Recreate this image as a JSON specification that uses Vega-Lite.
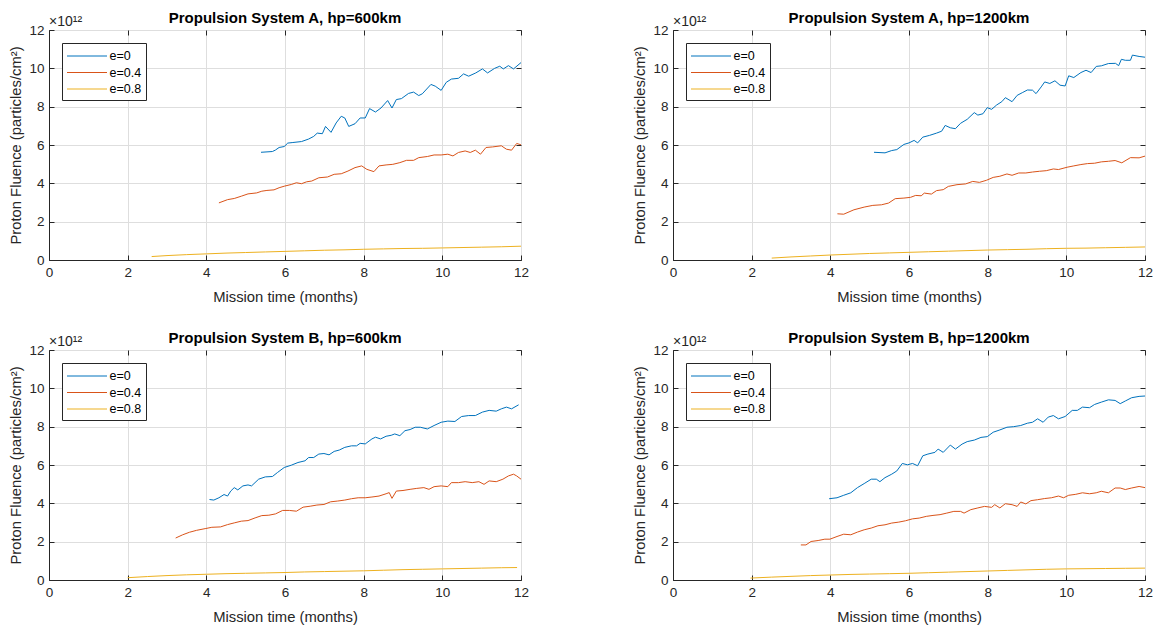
{
"$schema": "https://vega.github.io/schema/vega-lite/v6.json",
"background": "white",
"padding": {"left": 8, "top": 10, "right": 5, "bottom": 5},
"config": {
  "font": "Liberation Sans",
  "view": {"stroke": "#262626", "strokeWidth": 1},
  "axis": {"grid": true, "gridColor": "#dedede", "domainColor": "#262626", "tickColor": "#262626", "tickSize": -5, "tickCount": 6, "labelColor": "#262626", "labelFontSize": 13.5, "titleColor": "#262626", "titleFontSize": 14.8, "titleFontWeight": "normal", "labelFlush": false, "labelOverlap": false},
  "axisX": {"labelPadding": 10, "titlePadding": 10.5},
  "axisY": {"labelPadding": 10, "titlePadding": 5},
  "title": {"fontSize": 15, "fontWeight": "bold", "color": "#000", "offset": -10.5},
  "legend": {"orient": "top-left", "offset": 13, "strokeColor": "#262626", "fillColor": "white", "padding": 4.5, "symbolType": "M-2.5,0H2.5", "symbolSize": 256, "symbolStrokeWidth": 1, "symbolOffset": 12, "labelFontSize": 12.5, "labelColor": "#000", "rowPadding": 1.5, "labelOffset": 14}
},
"columns": 2,
"spacing": {"row": 90, "column": 152},
"bounds": "flush",
"resolve": {"legend": {"color": "independent"}},
"data": {"values": [
{"panel":"A600","e":"e=0","t":5.39,"fluence":5.62},{"panel":"A600","e":"e=0","t":5.68,"fluence":5.66},{"panel":"A600","e":"e=0","t":5.76,"fluence":5.74},{"panel":"A600","e":"e=0","t":5.85,"fluence":5.87},{"panel":"A600","e":"e=0","t":5.98,"fluence":5.92},{"panel":"A600","e":"e=0","t":6.07,"fluence":6.10},{"panel":"A600","e":"e=0","t":6.20,"fluence":6.13},{"panel":"A600","e":"e=0","t":6.42,"fluence":6.18},{"panel":"A600","e":"e=0","t":6.60,"fluence":6.31},{"panel":"A600","e":"e=0","t":6.73,"fluence":6.45},{"panel":"A600","e":"e=0","t":6.82,"fluence":6.62},{"panel":"A600","e":"e=0","t":6.95,"fluence":6.59},{"panel":"A600","e":"e=0","t":7.03,"fluence":6.97},{"panel":"A600","e":"e=0","t":7.17,"fluence":6.66},{"panel":"A600","e":"e=0","t":7.30,"fluence":7.15},{"panel":"A600","e":"e=0","t":7.43,"fluence":7.50},{"panel":"A600","e":"e=0","t":7.52,"fluence":7.41},{"panel":"A600","e":"e=0","t":7.62,"fluence":6.97},{"panel":"A600","e":"e=0","t":7.78,"fluence":7.11},{"panel":"A600","e":"e=0","t":7.91,"fluence":7.41},{"panel":"A600","e":"e=0","t":8.04,"fluence":7.41},{"panel":"A600","e":"e=0","t":8.15,"fluence":7.90},{"panel":"A600","e":"e=0","t":8.30,"fluence":7.72},{"panel":"A600","e":"e=0","t":8.44,"fluence":7.93},{"panel":"A600","e":"e=0","t":8.61,"fluence":8.32},{"panel":"A600","e":"e=0","t":8.72,"fluence":7.93},{"panel":"A600","e":"e=0","t":8.83,"fluence":8.37},{"panel":"A600","e":"e=0","t":8.96,"fluence":8.42},{"panel":"A600","e":"e=0","t":9.14,"fluence":8.69},{"panel":"A600","e":"e=0","t":9.27,"fluence":8.76},{"panel":"A600","e":"e=0","t":9.40,"fluence":8.58},{"panel":"A600","e":"e=0","t":9.49,"fluence":8.67},{"panel":"A600","e":"e=0","t":9.71,"fluence":9.16},{"panel":"A600","e":"e=0","t":9.82,"fluence":9.07},{"panel":"A600","e":"e=0","t":9.97,"fluence":8.85},{"panel":"A600","e":"e=0","t":10.10,"fluence":9.27},{"panel":"A600","e":"e=0","t":10.23,"fluence":9.44},{"panel":"A600","e":"e=0","t":10.41,"fluence":9.48},{"panel":"A600","e":"e=0","t":10.54,"fluence":9.71},{"panel":"A600","e":"e=0","t":10.67,"fluence":9.59},{"panel":"A600","e":"e=0","t":10.85,"fluence":9.76},{"panel":"A600","e":"e=0","t":11.02,"fluence":9.97},{"panel":"A600","e":"e=0","t":11.15,"fluence":9.76},{"panel":"A600","e":"e=0","t":11.33,"fluence":10.0},{"panel":"A600","e":"e=0","t":11.46,"fluence":10.11},{"panel":"A600","e":"e=0","t":11.55,"fluence":9.97},{"panel":"A600","e":"e=0","t":11.68,"fluence":10.14},{"panel":"A600","e":"e=0","t":11.81,"fluence":9.97},{"panel":"A600","e":"e=0","t":12.0,"fluence":10.3},
{"panel":"A600","e":"e=0.4","t":4.32,"fluence":2.98},{"panel":"A600","e":"e=0.4","t":4.54,"fluence":3.15},{"panel":"A600","e":"e=0.4","t":4.71,"fluence":3.21},{"panel":"A600","e":"e=0.4","t":4.89,"fluence":3.33},{"panel":"A600","e":"e=0.4","t":5.06,"fluence":3.45},{"panel":"A600","e":"e=0.4","t":5.28,"fluence":3.50},{"panel":"A600","e":"e=0.4","t":5.41,"fluence":3.59},{"panel":"A600","e":"e=0.4","t":5.54,"fluence":3.63},{"panel":"A600","e":"e=0.4","t":5.72,"fluence":3.66},{"panel":"A600","e":"e=0.4","t":5.85,"fluence":3.77},{"panel":"A600","e":"e=0.4","t":5.98,"fluence":3.85},{"panel":"A600","e":"e=0.4","t":6.16,"fluence":3.94},{"panel":"A600","e":"e=0.4","t":6.29,"fluence":4.03},{"panel":"A600","e":"e=0.4","t":6.42,"fluence":3.98},{"panel":"A600","e":"e=0.4","t":6.55,"fluence":4.08},{"panel":"A600","e":"e=0.4","t":6.68,"fluence":4.12},{"panel":"A600","e":"e=0.4","t":6.86,"fluence":4.29},{"panel":"A600","e":"e=0.4","t":7.08,"fluence":4.33},{"panel":"A600","e":"e=0.4","t":7.25,"fluence":4.47},{"panel":"A600","e":"e=0.4","t":7.43,"fluence":4.50},{"panel":"A600","e":"e=0.4","t":7.60,"fluence":4.64},{"panel":"A600","e":"e=0.4","t":7.78,"fluence":4.82},{"panel":"A600","e":"e=0.4","t":7.95,"fluence":4.91},{"panel":"A600","e":"e=0.4","t":8.08,"fluence":4.73},{"panel":"A600","e":"e=0.4","t":8.26,"fluence":4.61},{"panel":"A600","e":"e=0.4","t":8.39,"fluence":4.91},{"panel":"A600","e":"e=0.4","t":8.57,"fluence":4.96},{"panel":"A600","e":"e=0.4","t":8.74,"fluence":4.99},{"panel":"A600","e":"e=0.4","t":8.92,"fluence":5.08},{"panel":"A600","e":"e=0.4","t":9.09,"fluence":5.20},{"panel":"A600","e":"e=0.4","t":9.27,"fluence":5.20},{"panel":"A600","e":"e=0.4","t":9.40,"fluence":5.34},{"panel":"A600","e":"e=0.4","t":9.62,"fluence":5.40},{"panel":"A600","e":"e=0.4","t":9.79,"fluence":5.48},{"panel":"A600","e":"e=0.4","t":9.97,"fluence":5.48},{"panel":"A600","e":"e=0.4","t":10.14,"fluence":5.52},{"panel":"A600","e":"e=0.4","t":10.27,"fluence":5.43},{"panel":"A600","e":"e=0.4","t":10.41,"fluence":5.61},{"panel":"A600","e":"e=0.4","t":10.58,"fluence":5.69},{"panel":"A600","e":"e=0.4","t":10.71,"fluence":5.61},{"panel":"A600","e":"e=0.4","t":10.84,"fluence":5.73},{"panel":"A600","e":"e=0.4","t":10.97,"fluence":5.52},{"panel":"A600","e":"e=0.4","t":11.11,"fluence":5.87},{"panel":"A600","e":"e=0.4","t":11.28,"fluence":5.90},{"panel":"A600","e":"e=0.4","t":11.50,"fluence":5.96},{"panel":"A600","e":"e=0.4","t":11.63,"fluence":5.78},{"panel":"A600","e":"e=0.4","t":11.76,"fluence":5.73},{"panel":"A600","e":"e=0.4","t":11.89,"fluence":6.08},{"panel":"A600","e":"e=0.4","t":12.0,"fluence":6.01},
{"panel":"A600","e":"e=0.8","t":2.61,"fluence":0.18},{"panel":"A600","e":"e=0.8","t":3.0,"fluence":0.23},{"panel":"A600","e":"e=0.8","t":3.5,"fluence":0.28},{"panel":"A600","e":"e=0.8","t":4.0,"fluence":0.32},{"panel":"A600","e":"e=0.8","t":4.5,"fluence":0.36},{"panel":"A600","e":"e=0.8","t":5.0,"fluence":0.39},{"panel":"A600","e":"e=0.8","t":5.5,"fluence":0.42},{"panel":"A600","e":"e=0.8","t":6.0,"fluence":0.45},{"panel":"A600","e":"e=0.8","t":6.5,"fluence":0.48},{"panel":"A600","e":"e=0.8","t":7.0,"fluence":0.51},{"panel":"A600","e":"e=0.8","t":7.5,"fluence":0.53},{"panel":"A600","e":"e=0.8","t":8.0,"fluence":0.56},{"panel":"A600","e":"e=0.8","t":8.5,"fluence":0.58},{"panel":"A600","e":"e=0.8","t":9.0,"fluence":0.60},{"panel":"A600","e":"e=0.8","t":9.5,"fluence":0.61},{"panel":"A600","e":"e=0.8","t":10.0,"fluence":0.63},{"panel":"A600","e":"e=0.8","t":10.5,"fluence":0.65},{"panel":"A600","e":"e=0.8","t":11.0,"fluence":0.67},{"panel":"A600","e":"e=0.8","t":11.5,"fluence":0.69},{"panel":"A600","e":"e=0.8","t":12.0,"fluence":0.72},
{"panel":"A1200","e":"e=0","t":5.11,"fluence":5.62},{"panel":"A1200","e":"e=0","t":5.39,"fluence":5.59},{"panel":"A1200","e":"e=0","t":5.56,"fluence":5.71},{"panel":"A1200","e":"e=0","t":5.69,"fluence":5.76},{"panel":"A1200","e":"e=0","t":5.87,"fluence":6.03},{"panel":"A1200","e":"e=0","t":6.0,"fluence":6.11},{"panel":"A1200","e":"e=0","t":6.13,"fluence":6.24},{"panel":"A1200","e":"e=0","t":6.22,"fluence":6.11},{"panel":"A1200","e":"e=0","t":6.35,"fluence":6.41},{"panel":"A1200","e":"e=0","t":6.52,"fluence":6.50},{"panel":"A1200","e":"e=0","t":6.70,"fluence":6.62},{"panel":"A1200","e":"e=0","t":6.83,"fluence":6.72},{"panel":"A1200","e":"e=0","t":6.92,"fluence":7.02},{"panel":"A1200","e":"e=0","t":7.05,"fluence":6.90},{"panel":"A1200","e":"e=0","t":7.18,"fluence":6.85},{"panel":"A1200","e":"e=0","t":7.31,"fluence":7.13},{"panel":"A1200","e":"e=0","t":7.48,"fluence":7.34},{"panel":"A1200","e":"e=0","t":7.66,"fluence":7.69},{"panel":"A1200","e":"e=0","t":7.75,"fluence":7.56},{"panel":"A1200","e":"e=0","t":7.88,"fluence":7.63},{"panel":"A1200","e":"e=0","t":7.99,"fluence":7.95},{"panel":"A1200","e":"e=0","t":8.10,"fluence":7.86},{"panel":"A1200","e":"e=0","t":8.23,"fluence":8.09},{"panel":"A1200","e":"e=0","t":8.36,"fluence":8.26},{"panel":"A1200","e":"e=0","t":8.45,"fluence":8.47},{"panel":"A1200","e":"e=0","t":8.62,"fluence":8.26},{"panel":"A1200","e":"e=0","t":8.75,"fluence":8.59},{"panel":"A1200","e":"e=0","t":8.88,"fluence":8.73},{"panel":"A1200","e":"e=0","t":9.01,"fluence":8.87},{"panel":"A1200","e":"e=0","t":9.14,"fluence":8.86},{"panel":"A1200","e":"e=0","t":9.23,"fluence":8.68},{"panel":"A1200","e":"e=0","t":9.36,"fluence":9.03},{"panel":"A1200","e":"e=0","t":9.45,"fluence":9.29},{"panel":"A1200","e":"e=0","t":9.58,"fluence":9.21},{"panel":"A1200","e":"e=0","t":9.71,"fluence":9.35},{"panel":"A1200","e":"e=0","t":9.84,"fluence":9.12},{"panel":"A1200","e":"e=0","t":9.97,"fluence":9.08},{"panel":"A1200","e":"e=0","t":10.06,"fluence":9.61},{"panel":"A1200","e":"e=0","t":10.19,"fluence":9.52},{"panel":"A1200","e":"e=0","t":10.37,"fluence":9.78},{"panel":"A1200","e":"e=0","t":10.50,"fluence":9.90},{"panel":"A1200","e":"e=0","t":10.63,"fluence":9.78},{"panel":"A1200","e":"e=0","t":10.76,"fluence":10.10},{"panel":"A1200","e":"e=0","t":10.89,"fluence":10.13},{"panel":"A1200","e":"e=0","t":11.07,"fluence":10.25},{"panel":"A1200","e":"e=0","t":11.25,"fluence":10.26},{"panel":"A1200","e":"e=0","t":11.33,"fluence":10.14},{"panel":"A1200","e":"e=0","t":11.40,"fluence":10.47},{"panel":"A1200","e":"e=0","t":11.50,"fluence":10.42},{"panel":"A1200","e":"e=0","t":11.63,"fluence":10.42},{"panel":"A1200","e":"e=0","t":11.68,"fluence":10.69},{"panel":"A1200","e":"e=0","t":11.85,"fluence":10.62},{"panel":"A1200","e":"e=0","t":12.0,"fluence":10.58},
{"panel":"A1200","e":"e=0.4","t":4.18,"fluence":2.41},{"panel":"A1200","e":"e=0.4","t":4.34,"fluence":2.39},{"panel":"A1200","e":"e=0.4","t":4.60,"fluence":2.62},{"panel":"A1200","e":"e=0.4","t":4.86,"fluence":2.76},{"panel":"A1200","e":"e=0.4","t":5.08,"fluence":2.85},{"panel":"A1200","e":"e=0.4","t":5.30,"fluence":2.88},{"panel":"A1200","e":"e=0.4","t":5.48,"fluence":2.97},{"panel":"A1200","e":"e=0.4","t":5.65,"fluence":3.20},{"panel":"A1200","e":"e=0.4","t":5.87,"fluence":3.23},{"panel":"A1200","e":"e=0.4","t":6.04,"fluence":3.27},{"panel":"A1200","e":"e=0.4","t":6.17,"fluence":3.37},{"panel":"A1200","e":"e=0.4","t":6.31,"fluence":3.35},{"panel":"A1200","e":"e=0.4","t":6.39,"fluence":3.49},{"panel":"A1200","e":"e=0.4","t":6.57,"fluence":3.44},{"panel":"A1200","e":"e=0.4","t":6.70,"fluence":3.62},{"panel":"A1200","e":"e=0.4","t":6.87,"fluence":3.67},{"panel":"A1200","e":"e=0.4","t":7.00,"fluence":3.84},{"panel":"A1200","e":"e=0.4","t":7.22,"fluence":3.93},{"panel":"A1200","e":"e=0.4","t":7.44,"fluence":3.97},{"panel":"A1200","e":"e=0.4","t":7.62,"fluence":4.10},{"panel":"A1200","e":"e=0.4","t":7.79,"fluence":4.05},{"panel":"A1200","e":"e=0.4","t":7.97,"fluence":4.16},{"panel":"A1200","e":"e=0.4","t":8.14,"fluence":4.31},{"panel":"A1200","e":"e=0.4","t":8.31,"fluence":4.37},{"panel":"A1200","e":"e=0.4","t":8.49,"fluence":4.49},{"panel":"A1200","e":"e=0.4","t":8.62,"fluence":4.42},{"panel":"A1200","e":"e=0.4","t":8.79,"fluence":4.54},{"panel":"A1200","e":"e=0.4","t":8.97,"fluence":4.54},{"panel":"A1200","e":"e=0.4","t":9.14,"fluence":4.59},{"panel":"A1200","e":"e=0.4","t":9.32,"fluence":4.63},{"panel":"A1200","e":"e=0.4","t":9.49,"fluence":4.66},{"panel":"A1200","e":"e=0.4","t":9.67,"fluence":4.75},{"panel":"A1200","e":"e=0.4","t":9.80,"fluence":4.72},{"panel":"A1200","e":"e=0.4","t":10.02,"fluence":4.84},{"panel":"A1200","e":"e=0.4","t":10.19,"fluence":4.91},{"panel":"A1200","e":"e=0.4","t":10.37,"fluence":4.98},{"panel":"A1200","e":"e=0.4","t":10.54,"fluence":5.03},{"panel":"A1200","e":"e=0.4","t":10.72,"fluence":5.05},{"panel":"A1200","e":"e=0.4","t":10.89,"fluence":5.12},{"panel":"A1200","e":"e=0.4","t":11.07,"fluence":5.15},{"panel":"A1200","e":"e=0.4","t":11.24,"fluence":5.19},{"panel":"A1200","e":"e=0.4","t":11.41,"fluence":5.07},{"panel":"A1200","e":"e=0.4","t":11.63,"fluence":5.34},{"panel":"A1200","e":"e=0.4","t":11.85,"fluence":5.33},{"panel":"A1200","e":"e=0.4","t":12.0,"fluence":5.42},
{"panel":"A1200","e":"e=0.8","t":2.51,"fluence":0.10},{"panel":"A1200","e":"e=0.8","t":3.0,"fluence":0.16},{"panel":"A1200","e":"e=0.8","t":3.5,"fluence":0.21},{"panel":"A1200","e":"e=0.8","t":4.0,"fluence":0.26},{"panel":"A1200","e":"e=0.8","t":4.5,"fluence":0.30},{"panel":"A1200","e":"e=0.8","t":5.0,"fluence":0.34},{"panel":"A1200","e":"e=0.8","t":5.5,"fluence":0.37},{"panel":"A1200","e":"e=0.8","t":6.0,"fluence":0.40},{"panel":"A1200","e":"e=0.8","t":6.5,"fluence":0.43},{"panel":"A1200","e":"e=0.8","t":7.0,"fluence":0.46},{"panel":"A1200","e":"e=0.8","t":7.5,"fluence":0.49},{"panel":"A1200","e":"e=0.8","t":8.0,"fluence":0.52},{"panel":"A1200","e":"e=0.8","t":8.5,"fluence":0.54},{"panel":"A1200","e":"e=0.8","t":9.0,"fluence":0.56},{"panel":"A1200","e":"e=0.8","t":9.5,"fluence":0.59},{"panel":"A1200","e":"e=0.8","t":10.0,"fluence":0.61},{"panel":"A1200","e":"e=0.8","t":10.5,"fluence":0.62},{"panel":"A1200","e":"e=0.8","t":11.0,"fluence":0.64},{"panel":"A1200","e":"e=0.8","t":11.5,"fluence":0.66},{"panel":"A1200","e":"e=0.8","t":12.0,"fluence":0.68},
{"panel":"B600","e":"e=0","t":4.08,"fluence":4.20},{"panel":"B600","e":"e=0","t":4.19,"fluence":4.17},{"panel":"B600","e":"e=0","t":4.32,"fluence":4.29},{"panel":"B600","e":"e=0","t":4.45,"fluence":4.46},{"panel":"B600","e":"e=0","t":4.54,"fluence":4.38},{"panel":"B600","e":"e=0","t":4.62,"fluence":4.64},{"panel":"B600","e":"e=0","t":4.71,"fluence":4.82},{"panel":"B600","e":"e=0","t":4.80,"fluence":4.70},{"panel":"B600","e":"e=0","t":4.93,"fluence":4.91},{"panel":"B600","e":"e=0","t":5.06,"fluence":4.96},{"panel":"B600","e":"e=0","t":5.15,"fluence":4.91},{"panel":"B600","e":"e=0","t":5.33,"fluence":5.26},{"panel":"B600","e":"e=0","t":5.50,"fluence":5.38},{"panel":"B600","e":"e=0","t":5.68,"fluence":5.40},{"panel":"B600","e":"e=0","t":5.81,"fluence":5.61},{"panel":"B600","e":"e=0","t":5.98,"fluence":5.87},{"panel":"B600","e":"e=0","t":6.16,"fluence":5.99},{"panel":"B600","e":"e=0","t":6.33,"fluence":6.13},{"panel":"B600","e":"e=0","t":6.51,"fluence":6.22},{"panel":"B600","e":"e=0","t":6.60,"fluence":6.39},{"panel":"B600","e":"e=0","t":6.73,"fluence":6.39},{"panel":"B600","e":"e=0","t":6.86,"fluence":6.57},{"panel":"B600","e":"e=0","t":6.99,"fluence":6.60},{"panel":"B600","e":"e=0","t":7.12,"fluence":6.53},{"panel":"B600","e":"e=0","t":7.25,"fluence":6.71},{"panel":"B600","e":"e=0","t":7.38,"fluence":6.78},{"panel":"B600","e":"e=0","t":7.52,"fluence":6.92},{"panel":"B600","e":"e=0","t":7.69,"fluence":7.00},{"panel":"B600","e":"e=0","t":7.82,"fluence":7.00},{"panel":"B600","e":"e=0","t":7.91,"fluence":7.13},{"panel":"B600","e":"e=0","t":8.04,"fluence":7.10},{"panel":"B600","e":"e=0","t":8.21,"fluence":7.36},{"panel":"B600","e":"e=0","t":8.30,"fluence":7.45},{"panel":"B600","e":"e=0","t":8.43,"fluence":7.36},{"panel":"B600","e":"e=0","t":8.57,"fluence":7.50},{"panel":"B600","e":"e=0","t":8.70,"fluence":7.55},{"panel":"B600","e":"e=0","t":8.79,"fluence":7.62},{"panel":"B600","e":"e=0","t":8.92,"fluence":7.53},{"panel":"B600","e":"e=0","t":9.05,"fluence":7.79},{"panel":"B600","e":"e=0","t":9.18,"fluence":7.85},{"panel":"B600","e":"e=0","t":9.31,"fluence":7.97},{"panel":"B600","e":"e=0","t":9.44,"fluence":7.97},{"panel":"B600","e":"e=0","t":9.62,"fluence":7.88},{"panel":"B600","e":"e=0","t":9.79,"fluence":8.06},{"panel":"B600","e":"e=0","t":9.97,"fluence":8.23},{"panel":"B600","e":"e=0","t":10.14,"fluence":8.29},{"panel":"B600","e":"e=0","t":10.32,"fluence":8.27},{"panel":"B600","e":"e=0","t":10.49,"fluence":8.53},{"panel":"B600","e":"e=0","t":10.67,"fluence":8.58},{"panel":"B600","e":"e=0","t":10.84,"fluence":8.58},{"panel":"B600","e":"e=0","t":11.02,"fluence":8.76},{"panel":"B600","e":"e=0","t":11.19,"fluence":8.85},{"panel":"B600","e":"e=0","t":11.37,"fluence":8.81},{"panel":"B600","e":"e=0","t":11.50,"fluence":8.93},{"panel":"B600","e":"e=0","t":11.63,"fluence":9.02},{"panel":"B600","e":"e=0","t":11.76,"fluence":8.93},{"panel":"B600","e":"e=0","t":11.94,"fluence":9.14},
{"panel":"B600","e":"e=0.4","t":3.22,"fluence":2.19},{"panel":"B600","e":"e=0.4","t":3.40,"fluence":2.36},{"panel":"B600","e":"e=0.4","t":3.57,"fluence":2.49},{"panel":"B600","e":"e=0.4","t":3.75,"fluence":2.59},{"panel":"B600","e":"e=0.4","t":3.97,"fluence":2.68},{"panel":"B600","e":"e=0.4","t":4.14,"fluence":2.75},{"panel":"B600","e":"e=0.4","t":4.36,"fluence":2.77},{"panel":"B600","e":"e=0.4","t":4.54,"fluence":2.89},{"panel":"B600","e":"e=0.4","t":4.71,"fluence":2.98},{"panel":"B600","e":"e=0.4","t":4.89,"fluence":3.07},{"panel":"B600","e":"e=0.4","t":5.06,"fluence":3.10},{"panel":"B600","e":"e=0.4","t":5.24,"fluence":3.24},{"panel":"B600","e":"e=0.4","t":5.41,"fluence":3.36},{"panel":"B600","e":"e=0.4","t":5.59,"fluence":3.38},{"panel":"B600","e":"e=0.4","t":5.76,"fluence":3.45},{"panel":"B600","e":"e=0.4","t":5.94,"fluence":3.63},{"panel":"B600","e":"e=0.4","t":6.11,"fluence":3.63},{"panel":"B600","e":"e=0.4","t":6.29,"fluence":3.59},{"panel":"B600","e":"e=0.4","t":6.46,"fluence":3.80},{"panel":"B600","e":"e=0.4","t":6.64,"fluence":3.85},{"panel":"B600","e":"e=0.4","t":6.81,"fluence":3.91},{"panel":"B600","e":"e=0.4","t":6.99,"fluence":3.94},{"panel":"B600","e":"e=0.4","t":7.16,"fluence":4.08},{"panel":"B600","e":"e=0.4","t":7.34,"fluence":4.12},{"panel":"B600","e":"e=0.4","t":7.52,"fluence":4.17},{"panel":"B600","e":"e=0.4","t":7.69,"fluence":4.24},{"panel":"B600","e":"e=0.4","t":7.86,"fluence":4.29},{"panel":"B600","e":"e=0.4","t":8.04,"fluence":4.29},{"panel":"B600","e":"e=0.4","t":8.21,"fluence":4.33},{"panel":"B600","e":"e=0.4","t":8.39,"fluence":4.38},{"panel":"B600","e":"e=0.4","t":8.57,"fluence":4.50},{"panel":"B600","e":"e=0.4","t":8.65,"fluence":4.56},{"panel":"B600","e":"e=0.4","t":8.72,"fluence":4.26},{"panel":"B600","e":"e=0.4","t":8.83,"fluence":4.64},{"panel":"B600","e":"e=0.4","t":9.00,"fluence":4.67},{"panel":"B600","e":"e=0.4","t":9.18,"fluence":4.73},{"panel":"B600","e":"e=0.4","t":9.35,"fluence":4.78},{"panel":"B600","e":"e=0.4","t":9.53,"fluence":4.82},{"panel":"B600","e":"e=0.4","t":9.66,"fluence":4.73},{"panel":"B600","e":"e=0.4","t":9.79,"fluence":4.87},{"panel":"B600","e":"e=0.4","t":9.97,"fluence":4.91},{"panel":"B600","e":"e=0.4","t":10.14,"fluence":4.87},{"panel":"B600","e":"e=0.4","t":10.23,"fluence":5.08},{"panel":"B600","e":"e=0.4","t":10.41,"fluence":5.08},{"panel":"B600","e":"e=0.4","t":10.58,"fluence":5.13},{"panel":"B600","e":"e=0.4","t":10.76,"fluence":5.08},{"panel":"B600","e":"e=0.4","t":10.93,"fluence":5.13},{"panel":"B600","e":"e=0.4","t":11.06,"fluence":4.99},{"panel":"B600","e":"e=0.4","t":11.19,"fluence":5.17},{"panel":"B600","e":"e=0.4","t":11.37,"fluence":5.13},{"panel":"B600","e":"e=0.4","t":11.54,"fluence":5.26},{"panel":"B600","e":"e=0.4","t":11.68,"fluence":5.43},{"panel":"B600","e":"e=0.4","t":11.81,"fluence":5.52},{"panel":"B600","e":"e=0.4","t":11.89,"fluence":5.43},{"panel":"B600","e":"e=0.4","t":12.0,"fluence":5.26},
{"panel":"B600","e":"e=0.8","t":2.0,"fluence":0.12},{"panel":"B600","e":"e=0.8","t":2.5,"fluence":0.18},{"panel":"B600","e":"e=0.8","t":3.0,"fluence":0.23},{"panel":"B600","e":"e=0.8","t":3.5,"fluence":0.27},{"panel":"B600","e":"e=0.8","t":4.0,"fluence":0.30},{"panel":"B600","e":"e=0.8","t":4.5,"fluence":0.33},{"panel":"B600","e":"e=0.8","t":5.0,"fluence":0.35},{"panel":"B600","e":"e=0.8","t":5.5,"fluence":0.37},{"panel":"B600","e":"e=0.8","t":6.0,"fluence":0.39},{"panel":"B600","e":"e=0.8","t":6.5,"fluence":0.42},{"panel":"B600","e":"e=0.8","t":7.0,"fluence":0.44},{"panel":"B600","e":"e=0.8","t":7.5,"fluence":0.46},{"panel":"B600","e":"e=0.8","t":8.0,"fluence":0.48},{"panel":"B600","e":"e=0.8","t":8.5,"fluence":0.51},{"panel":"B600","e":"e=0.8","t":9.0,"fluence":0.54},{"panel":"B600","e":"e=0.8","t":9.5,"fluence":0.56},{"panel":"B600","e":"e=0.8","t":10.0,"fluence":0.58},{"panel":"B600","e":"e=0.8","t":10.5,"fluence":0.60},{"panel":"B600","e":"e=0.8","t":11.0,"fluence":0.62},{"panel":"B600","e":"e=0.8","t":11.5,"fluence":0.64},{"panel":"B600","e":"e=0.8","t":11.9,"fluence":0.65},
{"panel":"B1200","e":"e=0","t":3.97,"fluence":4.24},{"panel":"B1200","e":"e=0","t":4.17,"fluence":4.29},{"panel":"B1200","e":"e=0","t":4.34,"fluence":4.42},{"panel":"B1200","e":"e=0","t":4.52,"fluence":4.55},{"panel":"B1200","e":"e=0","t":4.69,"fluence":4.82},{"panel":"B1200","e":"e=0","t":4.86,"fluence":5.03},{"panel":"B1200","e":"e=0","t":5.04,"fluence":5.26},{"panel":"B1200","e":"e=0","t":5.17,"fluence":5.26},{"panel":"B1200","e":"e=0","t":5.26,"fluence":5.13},{"panel":"B1200","e":"e=0","t":5.39,"fluence":5.34},{"panel":"B1200","e":"e=0","t":5.56,"fluence":5.52},{"panel":"B1200","e":"e=0","t":5.69,"fluence":5.69},{"panel":"B1200","e":"e=0","t":5.83,"fluence":6.08},{"panel":"B1200","e":"e=0","t":5.96,"fluence":6.01},{"panel":"B1200","e":"e=0","t":6.09,"fluence":6.08},{"panel":"B1200","e":"e=0","t":6.22,"fluence":5.96},{"panel":"B1200","e":"e=0","t":6.35,"fluence":6.48},{"panel":"B1200","e":"e=0","t":6.48,"fluence":6.57},{"panel":"B1200","e":"e=0","t":6.66,"fluence":6.66},{"panel":"B1200","e":"e=0","t":6.74,"fluence":6.83},{"panel":"B1200","e":"e=0","t":6.87,"fluence":6.66},{"panel":"B1200","e":"e=0","t":7.05,"fluence":7.04},{"panel":"B1200","e":"e=0","t":7.18,"fluence":6.83},{"panel":"B1200","e":"e=0","t":7.35,"fluence":7.09},{"panel":"B1200","e":"e=0","t":7.48,"fluence":7.22},{"panel":"B1200","e":"e=0","t":7.66,"fluence":7.30},{"panel":"B1200","e":"e=0","t":7.83,"fluence":7.44},{"panel":"B1200","e":"e=0","t":7.99,"fluence":7.48},{"panel":"B1200","e":"e=0","t":8.14,"fluence":7.71},{"panel":"B1200","e":"e=0","t":8.31,"fluence":7.83},{"panel":"B1200","e":"e=0","t":8.49,"fluence":7.97},{"panel":"B1200","e":"e=0","t":8.66,"fluence":8.00},{"panel":"B1200","e":"e=0","t":8.84,"fluence":8.06},{"panel":"B1200","e":"e=0","t":9.01,"fluence":8.18},{"panel":"B1200","e":"e=0","t":9.14,"fluence":8.23},{"panel":"B1200","e":"e=0","t":9.27,"fluence":8.41},{"panel":"B1200","e":"e=0","t":9.41,"fluence":8.23},{"panel":"B1200","e":"e=0","t":9.54,"fluence":8.50},{"panel":"B1200","e":"e=0","t":9.67,"fluence":8.58},{"panel":"B1200","e":"e=0","t":9.80,"fluence":8.41},{"panel":"B1200","e":"e=0","t":9.97,"fluence":8.53},{"panel":"B1200","e":"e=0","t":10.15,"fluence":8.85},{"panel":"B1200","e":"e=0","t":10.28,"fluence":8.85},{"panel":"B1200","e":"e=0","t":10.41,"fluence":9.02},{"panel":"B1200","e":"e=0","t":10.59,"fluence":8.99},{"panel":"B1200","e":"e=0","t":10.72,"fluence":9.16},{"panel":"B1200","e":"e=0","t":10.89,"fluence":9.28},{"panel":"B1200","e":"e=0","t":11.07,"fluence":9.40},{"panel":"B1200","e":"e=0","t":11.24,"fluence":9.37},{"panel":"B1200","e":"e=0","t":11.37,"fluence":9.20},{"panel":"B1200","e":"e=0","t":11.50,"fluence":9.34},{"panel":"B1200","e":"e=0","t":11.66,"fluence":9.51},{"panel":"B1200","e":"e=0","t":11.85,"fluence":9.58},{"panel":"B1200","e":"e=0","t":12.0,"fluence":9.60},
{"panel":"B1200","e":"e=0.4","t":3.25,"fluence":1.83},{"panel":"B1200","e":"e=0.4","t":3.38,"fluence":1.83},{"panel":"B1200","e":"e=0.4","t":3.51,"fluence":2.01},{"panel":"B1200","e":"e=0.4","t":3.69,"fluence":2.06},{"panel":"B1200","e":"e=0.4","t":3.86,"fluence":2.13},{"panel":"B1200","e":"e=0.4","t":3.99,"fluence":2.13},{"panel":"B1200","e":"e=0.4","t":4.17,"fluence":2.27},{"panel":"B1200","e":"e=0.4","t":4.34,"fluence":2.39},{"panel":"B1200","e":"e=0.4","t":4.52,"fluence":2.36},{"panel":"B1200","e":"e=0.4","t":4.69,"fluence":2.50},{"panel":"B1200","e":"e=0.4","t":4.86,"fluence":2.62},{"panel":"B1200","e":"e=0.4","t":5.04,"fluence":2.71},{"panel":"B1200","e":"e=0.4","t":5.21,"fluence":2.83},{"panel":"B1200","e":"e=0.4","t":5.39,"fluence":2.88},{"panel":"B1200","e":"e=0.4","t":5.56,"fluence":2.97},{"panel":"B1200","e":"e=0.4","t":5.74,"fluence":3.02},{"panel":"B1200","e":"e=0.4","t":5.91,"fluence":3.09},{"panel":"B1200","e":"e=0.4","t":6.09,"fluence":3.19},{"panel":"B1200","e":"e=0.4","t":6.26,"fluence":3.23},{"panel":"B1200","e":"e=0.4","t":6.44,"fluence":3.32},{"panel":"B1200","e":"e=0.4","t":6.61,"fluence":3.37},{"panel":"B1200","e":"e=0.4","t":6.79,"fluence":3.41},{"panel":"B1200","e":"e=0.4","t":6.96,"fluence":3.49},{"panel":"B1200","e":"e=0.4","t":7.14,"fluence":3.58},{"panel":"B1200","e":"e=0.4","t":7.31,"fluence":3.58},{"panel":"B1200","e":"e=0.4","t":7.40,"fluence":3.49},{"panel":"B1200","e":"e=0.4","t":7.57,"fluence":3.67},{"panel":"B1200","e":"e=0.4","t":7.75,"fluence":3.76},{"panel":"B1200","e":"e=0.4","t":7.92,"fluence":3.84},{"panel":"B1200","e":"e=0.4","t":8.10,"fluence":3.79},{"panel":"B1200","e":"e=0.4","t":8.18,"fluence":3.93},{"panel":"B1200","e":"e=0.4","t":8.31,"fluence":3.76},{"panel":"B1200","e":"e=0.4","t":8.45,"fluence":3.98},{"panel":"B1200","e":"e=0.4","t":8.62,"fluence":3.93},{"panel":"B1200","e":"e=0.4","t":8.75,"fluence":3.84},{"panel":"B1200","e":"e=0.4","t":8.84,"fluence":4.07},{"panel":"B1200","e":"e=0.4","t":8.97,"fluence":3.97},{"panel":"B1200","e":"e=0.4","t":9.10,"fluence":4.14},{"panel":"B1200","e":"e=0.4","t":9.27,"fluence":4.19},{"panel":"B1200","e":"e=0.4","t":9.45,"fluence":4.25},{"panel":"B1200","e":"e=0.4","t":9.62,"fluence":4.29},{"panel":"B1200","e":"e=0.4","t":9.80,"fluence":4.38},{"panel":"B1200","e":"e=0.4","t":9.93,"fluence":4.29},{"panel":"B1200","e":"e=0.4","t":10.06,"fluence":4.42},{"panel":"B1200","e":"e=0.4","t":10.24,"fluence":4.47},{"panel":"B1200","e":"e=0.4","t":10.41,"fluence":4.55},{"panel":"B1200","e":"e=0.4","t":10.59,"fluence":4.50},{"panel":"B1200","e":"e=0.4","t":10.76,"fluence":4.55},{"panel":"B1200","e":"e=0.4","t":10.89,"fluence":4.63},{"panel":"B1200","e":"e=0.4","t":11.07,"fluence":4.55},{"panel":"B1200","e":"e=0.4","t":11.24,"fluence":4.80},{"panel":"B1200","e":"e=0.4","t":11.37,"fluence":4.80},{"panel":"B1200","e":"e=0.4","t":11.50,"fluence":4.72},{"panel":"B1200","e":"e=0.4","t":11.66,"fluence":4.80},{"panel":"B1200","e":"e=0.4","t":11.85,"fluence":4.88},{"panel":"B1200","e":"e=0.4","t":12.0,"fluence":4.82},
{"panel":"B1200","e":"e=0.8","t":1.97,"fluence":0.10},{"panel":"B1200","e":"e=0.8","t":2.5,"fluence":0.15},{"panel":"B1200","e":"e=0.8","t":3.0,"fluence":0.19},{"panel":"B1200","e":"e=0.8","t":3.5,"fluence":0.23},{"panel":"B1200","e":"e=0.8","t":4.0,"fluence":0.26},{"panel":"B1200","e":"e=0.8","t":4.5,"fluence":0.29},{"panel":"B1200","e":"e=0.8","t":5.0,"fluence":0.31},{"panel":"B1200","e":"e=0.8","t":5.5,"fluence":0.33},{"panel":"B1200","e":"e=0.8","t":6.0,"fluence":0.35},{"panel":"B1200","e":"e=0.8","t":6.5,"fluence":0.38},{"panel":"B1200","e":"e=0.8","t":7.0,"fluence":0.41},{"panel":"B1200","e":"e=0.8","t":7.5,"fluence":0.44},{"panel":"B1200","e":"e=0.8","t":8.0,"fluence":0.47},{"panel":"B1200","e":"e=0.8","t":8.5,"fluence":0.50},{"panel":"B1200","e":"e=0.8","t":9.0,"fluence":0.53},{"panel":"B1200","e":"e=0.8","t":9.5,"fluence":0.56},{"panel":"B1200","e":"e=0.8","t":10.0,"fluence":0.58},{"panel":"B1200","e":"e=0.8","t":10.5,"fluence":0.59},{"panel":"B1200","e":"e=0.8","t":11.0,"fluence":0.60},{"panel":"B1200","e":"e=0.8","t":11.5,"fluence":0.61},{"panel":"B1200","e":"e=0.8","t":12.0,"fluence":0.62}
]},
"concat": [
{"width": 472, "height": 230, "title": "Propulsion System A, hp=600km",
 "resolve": {"axis": {"x": "independent", "y": "independent"}},
 "layer": [
  {"transform": [{"filter": "datum.panel === 'A600'"}],
   "mark": {"type": "line", "strokeWidth": 1},
   "encoding": {
    "x": {"field": "t", "type": "quantitative", "scale": {"domain": [0, 12], "nice": false}, "axis": {"title": "Mission time (months)"}},
    "y": {"field": "fluence", "type": "quantitative", "scale": {"domain": [0, 12], "nice": false}, "axis": {"title": "Proton Fluence (particles/cm²)"}},
    "color": {"field": "e", "type": "nominal", "scale": {"domain": ["e=0", "e=0.4", "e=0.8"], "range": ["#0072BD", "#D95319", "#EDB120"]}, "legend": {"title": null}}}},
  {"data": {"values": [{"label": "×10¹²"}]},
   "mark": {"type": "text", "align": "left", "baseline": "alphabetic", "dy": -4, "fontSize": 14, "color": "#262626"},
   "encoding": {"x": {"datum": 0, "type": "quantitative", "axis": {"orient": "top", "labels": false, "title": null, "grid": false, "domain": false}}, "y": {"datum": 12, "type": "quantitative", "axis": {"orient": "right", "labels": false, "title": null, "grid": false, "domain": false}}, "text": {"field": "label"}}}
 ]},
{"width": 472, "height": 230, "title": "Propulsion System A, hp=1200km",
 "resolve": {"axis": {"x": "independent", "y": "independent"}},
 "layer": [
  {"transform": [{"filter": "datum.panel === 'A1200'"}],
   "mark": {"type": "line", "strokeWidth": 1},
   "encoding": {
    "x": {"field": "t", "type": "quantitative", "scale": {"domain": [0, 12], "nice": false}, "axis": {"title": "Mission time (months)"}},
    "y": {"field": "fluence", "type": "quantitative", "scale": {"domain": [0, 12], "nice": false}, "axis": {"title": "Proton Fluence (particles/cm²)"}},
    "color": {"field": "e", "type": "nominal", "scale": {"domain": ["e=0", "e=0.4", "e=0.8"], "range": ["#0072BD", "#D95319", "#EDB120"]}, "legend": {"title": null}}}},
  {"data": {"values": [{"label": "×10¹²"}]},
   "mark": {"type": "text", "align": "left", "baseline": "alphabetic", "dy": -4, "fontSize": 14, "color": "#262626"},
   "encoding": {"x": {"datum": 0, "type": "quantitative", "axis": {"orient": "top", "labels": false, "title": null, "grid": false, "domain": false}}, "y": {"datum": 12, "type": "quantitative", "axis": {"orient": "right", "labels": false, "title": null, "grid": false, "domain": false}}, "text": {"field": "label"}}}
 ]},
{"width": 472, "height": 230, "title": "Propulsion System B, hp=600km",
 "resolve": {"axis": {"x": "independent", "y": "independent"}},
 "layer": [
  {"transform": [{"filter": "datum.panel === 'B600'"}],
   "mark": {"type": "line", "strokeWidth": 1},
   "encoding": {
    "x": {"field": "t", "type": "quantitative", "scale": {"domain": [0, 12], "nice": false}, "axis": {"title": "Mission time (months)"}},
    "y": {"field": "fluence", "type": "quantitative", "scale": {"domain": [0, 12], "nice": false}, "axis": {"title": "Proton Fluence (particles/cm²)"}},
    "color": {"field": "e", "type": "nominal", "scale": {"domain": ["e=0", "e=0.4", "e=0.8"], "range": ["#0072BD", "#D95319", "#EDB120"]}, "legend": {"title": null}}}},
  {"data": {"values": [{"label": "×10¹²"}]},
   "mark": {"type": "text", "align": "left", "baseline": "alphabetic", "dy": -4, "fontSize": 14, "color": "#262626"},
   "encoding": {"x": {"datum": 0, "type": "quantitative", "axis": {"orient": "top", "labels": false, "title": null, "grid": false, "domain": false}}, "y": {"datum": 12, "type": "quantitative", "axis": {"orient": "right", "labels": false, "title": null, "grid": false, "domain": false}}, "text": {"field": "label"}}}
 ]},
{"width": 472, "height": 230, "title": "Propulsion System B, hp=1200km",
 "resolve": {"axis": {"x": "independent", "y": "independent"}},
 "layer": [
  {"transform": [{"filter": "datum.panel === 'B1200'"}],
   "mark": {"type": "line", "strokeWidth": 1},
   "encoding": {
    "x": {"field": "t", "type": "quantitative", "scale": {"domain": [0, 12], "nice": false}, "axis": {"title": "Mission time (months)"}},
    "y": {"field": "fluence", "type": "quantitative", "scale": {"domain": [0, 12], "nice": false}, "axis": {"title": "Proton Fluence (particles/cm²)"}},
    "color": {"field": "e", "type": "nominal", "scale": {"domain": ["e=0", "e=0.4", "e=0.8"], "range": ["#0072BD", "#D95319", "#EDB120"]}, "legend": {"title": null}}}},
  {"data": {"values": [{"label": "×10¹²"}]},
   "mark": {"type": "text", "align": "left", "baseline": "alphabetic", "dy": -4, "fontSize": 14, "color": "#262626"},
   "encoding": {"x": {"datum": 0, "type": "quantitative", "axis": {"orient": "top", "labels": false, "title": null, "grid": false, "domain": false}}, "y": {"datum": 12, "type": "quantitative", "axis": {"orient": "right", "labels": false, "title": null, "grid": false, "domain": false}}, "text": {"field": "label"}}}
 ]}
]
}
